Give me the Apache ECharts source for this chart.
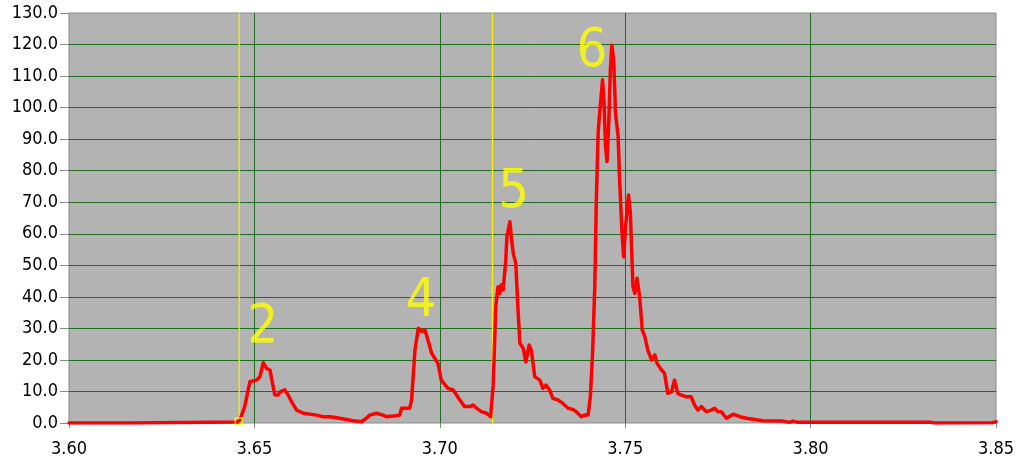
<!DOCTYPE html>
<html><head><meta charset="utf-8">
<script src="https://cdn.jsdelivr.net/npm/echarts@6/dist/echarts.min.js"></script>
<style>html,body{margin:0;padding:0;background:#fff}#c{width:1018px;height:461px}</style>
</head><body><div id="c"></div>
<script>
const xs = [3.600,3.6164,3.6166,3.6455,3.6461,3.6474,3.6488,3.6506,3.6515,3.6524,3.6533,3.6542,3.6555,3.6564,3.6569,3.6582,3.6591,3.6600,3.6614,3.6632,3.6668,3.6685,3.6704,3.6730,3.6766,3.6789,3.6802,3.6811,3.6829,3.6847,3.6856,3.6874,3.6892,3.6897,3.6919,3.6924,3.6933,3.6942,3.6951,3.6960,3.6968,3.6978,3.6995,3.7004,3.7022,3.7036,3.7054,3.7067,3.7081,3.7090,3.7099,3.7112,3.7126,3.7137,3.7144,3.7151,3.7157,3.7162,3.7166,3.7171,3.7178,3.7181,3.7189,3.7193,3.7198,3.7205,3.7211,3.7216,3.7225,3.7232,3.7241,3.7247,3.7256,3.7270,3.7278,3.7286,3.7296,3.7305,3.7319,3.7332,3.7346,3.7359,3.7368,3.7382,3.7391,3.7400,3.7406,3.7412,3.7418,3.7422,3.7427,3.7431,3.7439,3.7443,3.7447,3.7451,3.7456,3.7460,3.7464,3.7469,3.7474,3.7481,3.7485,3.7491,3.7496,3.7501,3.7509,3.7514,3.7521,3.7526,3.7532,3.7539,3.7546,3.7553,3.7561,3.7571,3.7580,3.7586,3.7598,3.7606,3.7615,3.7625,3.7633,3.7642,3.7650,3.7665,3.7678,3.7687,3.7696,3.7705,3.7719,3.7732,3.7741,3.7750,3.7759,3.7773,3.7791,3.7809,3.7827,3.7844,3.7871,3.7925,3.7943,3.7952,3.7966,3.8325,3.8334,3.8491,3.8500];
const ys = [0.0,0.0,0.3,0.3,1.0,5.2,13.1,13.6,14.7,19.1,17.3,16.8,8.9,8.9,9.9,10.5,8.9,6.8,4.1,3.1,2.5,2.0,2.0,1.5,0.7,0.4,1.5,2.5,3.1,2.5,2.0,2.2,2.5,4.7,4.7,7.3,23.1,30.0,29.0,29.5,26.3,22.1,18.9,13.6,11.0,10.5,7.3,5.2,5.2,5.7,4.7,3.6,3.1,2.0,12.0,36.9,43.2,41.1,43.8,42.2,51.7,59.1,63.8,59.1,53.8,50.6,35.8,25.3,23.7,19.4,24.7,23.1,14.7,13.6,11.0,12.0,10.5,7.8,7.3,6.2,4.7,4.3,3.6,2.0,2.5,2.5,8.3,22.1,43.2,69.7,91.9,98.2,108.8,101.4,87.6,82.9,96.1,111.9,119.8,115.1,98.2,90.8,77.0,61.2,52.7,62.2,72.3,66.5,43.2,41.1,45.9,40.0,29.5,27.4,23.1,20.0,21.6,18.9,16.8,15.8,9.4,9.9,13.6,9.4,8.9,8.3,8.3,5.7,4.1,5.2,3.6,4.1,4.7,3.6,3.6,1.5,2.8,2.0,1.5,1.2,0.7,0.6,0.2,0.6,0.2,0.2,0.0,0.1,0.4];
const peakLabels = ['2','4','5','6'];
const peakX = [3.6523, 3.6949, 3.7199, 3.7410];
const peakY = [30.0, 38.5, 72.8, 117.8];
const cursorX = [3.6459, 3.7142];
const cursorMarkX = [3.6458, 3.7141];
const cursorMarkY = [0.5, 42.2];

const FONT = '"DejaVu Sans Condensed", "DejaVu Sans", sans-serif';
const chart = echarts.init(document.getElementById('c'), null, {renderer: 'canvas'});
const cursorSeries = cursorX.map(x => ({
  type: 'line', showSymbol: false, symbol: 'none', silent: true, z: 2,
  data: [[x, 0], [x, 130]],
  lineStyle: {color: '#f0f000', width: 1.3}
}));
chart.setOption({
  animation: false,
  backgroundColor: '#ffffff',
  grid: {left: 69, right: 22, top: 13, bottom: 38, show: true,
    backgroundColor: '#b3b3b3', borderColor: '#8a8a8a', borderWidth: 1},
  xAxis: {
    type: 'value', min: 3.6, max: 3.85, interval: 0.05, offset: 5,
    axisLine: {show: false},
    axisTick: {show: true, length: 5, lineStyle: {color: '#8a8a8a', width: 1}},
    axisLabel: {color: '#000', fontSize: 18, fontFamily: FONT, margin: 12,
      formatter: v => v.toFixed(2)},
    splitLine: {show: true, showMinLine: false, showMaxLine: false,
      lineStyle: {color: '#1f6b1f', width: 1}}
  },
  yAxis: {
    type: 'value', min: 0, max: 130, interval: 10,
    axisLine: {show: false},
    axisTick: {show: true, length: 9, lineStyle: {color: '#8a8a8a', width: 1}},
    axisLabel: {color: '#000', fontSize: 18, fontFamily: FONT, margin: 11,
      formatter: v => v.toFixed(1)},
    splitLine: {show: true, showMinLine: false, showMaxLine: false,
      lineStyle: {color: '#1f6b1f', width: 1}}
  },
  series: cursorSeries.concat([
    {
      type: 'line', showSymbol: false, symbol: 'none',
      data: xs.map((x, i) => [x, ys[i]]),
      lineStyle: {color: '#ff0000', width: 3.5, join: 'round', cap: 'round'},
      z: 3
    },
    {
      type: 'scatter', z: 5,
      data: [[cursorMarkX[0], cursorMarkY[0]]],
      symbol: 'rect', symbolSize: 7,
      itemStyle: {color: 'rgba(0,0,0,0)', borderColor: '#ffff00', borderWidth: 1.5}
    },
    {
      type: 'scatter', z: 5,
      data: [[cursorMarkX[1], cursorMarkY[1]]],
      symbol: 'path://M0,0L10,10M10,0L0,10', symbolSize: 6,
      itemStyle: {color: 'rgba(0,0,0,0)', borderColor: '#e6e650', borderWidth: 1}
    },
    {
      type: 'scatter', z: 6, symbolSize: 0,
      data: peakX.map((x, i) => ({value: [x, peakY[i]], name: peakLabels[i]})),
      label: {show: true, position: 'inside', formatter: p => p.name,
        color: '#ffff00', fontSize: 54, fontFamily: FONT}
    }
  ])
});
</script></body></html>
